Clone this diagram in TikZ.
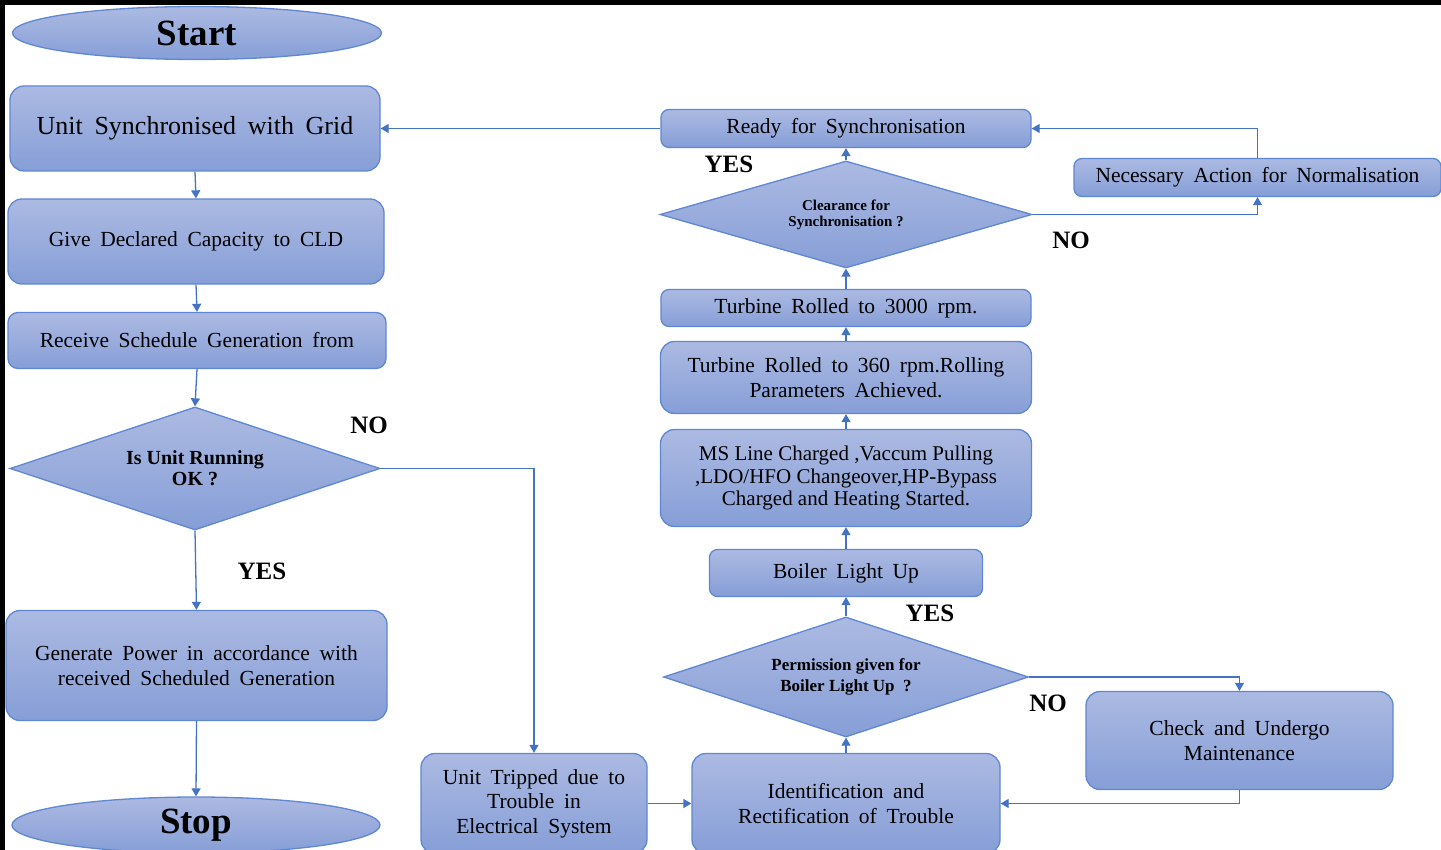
\documentclass[tikz,border=0pt]{standalone}
\usepackage{fontspec}
\setmainfont{Liberation Serif}
\usetikzlibrary{shapes.geometric,arrows.meta}
\definecolor{topc}{RGB}{172,186,226}
\definecolor{botc}{RGB}{134,158,215}
\definecolor{bordc}{RGB}{95,135,210}
\definecolor{linec}{RGB}{68,114,196}
\begin{document}
\begin{tikzpicture}[x=1pt,y=-1pt,
  base/.style={draw=bordc,line width=1.3pt,top color=topc,bottom color=botc,inner sep=0pt,align=center,text=black},
  pbox/.style={base,rectangle,rounded corners=14pt},
  tbox/.style={base,rectangle,rounded corners=8pt},
  oval/.style={base,ellipse,font=\fontsize{37}{40}\selectfont\bfseries},
  dec/.style={base,diamond,aspect=3},
  widesp/.style={execute at begin node={\spaceskip=0.45em plus 0.1em\relax}},
  txt/.style={font=\fontsize{21.5}{24.5}\selectfont,widesp},
  lbl/.style={font=\fontsize{25}{28}\selectfont\bfseries},
  conn/.style={draw=linec,line width=1.3pt,-{Triangle[length=8pt,width=9pt]}},
]
\useasboundingbox (0,0) rectangle (1441,850);
\clip (0,0) rectangle (1441,850);
\fill[white] (0,0) rectangle (1441,850);
\fill[black] (0,0) rectangle (1441,5);
\fill[black] (0,0) rectangle (5,850);

\node[oval,minimum width=369pt,minimum height=53pt] (start) at (197,33) {Start};
\node[pbox,font=\fontsize{26}{30}\selectfont,widesp,minimum width=370pt,minimum height=85pt] (sync) at (195,128.5) {Unit Synchronised with Grid};
\node[pbox,txt,minimum width=376pt,minimum height=85pt] (cap) at (196,241.5) {Give Declared Capacity to CLD};
\node[pbox,txt,rounded corners=10pt,minimum width=378pt,minimum height=56pt] (sched) at (197,340.5) {Receive Schedule Generation from};
\node[dec,minimum width=370pt,minimum height=123pt,font=\fontsize{20}{21}\selectfont\bfseries] (run) at (195,468.5) {Is Unit Running\\OK ?};
\node[pbox,txt,minimum width=381pt,minimum height=110pt] (gen) at (196.5,665.5) {Generate Power in accordance with\\received Scheduled Generation};
\node[oval,minimum width=368pt,minimum height=56pt] (stop) at (196,825) {Stop};

\node[pbox,txt,minimum width=226pt,minimum height=100pt] (trip) at (534,803.5) {Unit Tripped due to\\Trouble in\\Electrical System};
\node[pbox,txt,minimum width=308pt,minimum height=100pt] (ident) at (846,803.5) {Identification and\\Rectification of Trouble};
\node[pbox,txt,minimum width=307pt,minimum height=98pt] (check) at (1239.5,740.5) {Check and Undergo\\Maintenance};
\node[dec,minimum width=365pt,minimum height=120pt,font=\fontsize{17}{21}\selectfont\bfseries] (perm) at (846,677) {Permission given for\\Boiler Light Up \ ?};
\node[tbox,txt,minimum width=273pt,minimum height=47pt] (boiler) at (846,573) {Boiler Light Up};
\node[pbox,font=\fontsize{21}{22.5}\selectfont,minimum width=371pt,minimum height=97pt] (ms) at (846,478) {MS Line Charged ,Vaccum Pulling\\,LDO/HFO Changeover,HP-Bypass\\Charged and Heating Started.};
\node[pbox,txt,minimum width=371pt,minimum height=72pt] (t360) at (846,377.5) {Turbine Rolled to 360 rpm.Rolling\\Parameters Achieved.};
\node[tbox,txt,minimum width=370pt,minimum height=37pt] (t3000) at (846,308) {Turbine Rolled to 3000 rpm.};
\node[dec,aspect=3.5,minimum width=372pt,minimum height=107pt,font=\fontsize{15}{16}\selectfont\bfseries] (clear) at (846,214.5) {Clearance for\\Synchronisation ?};
\node[tbox,txt,minimum width=370pt,minimum height=38pt] (ready) at (846,128.5) {Ready for Synchronisation};
\node[tbox,txt,minimum width=367pt,minimum height=38pt] (norm) at (1257.5,177.5) {Necessary Action for Normalisation};

\draw[conn] (ready.west) -- (sync.east);
\draw[conn] (sync.south) -- (cap.north);
\draw[conn] (cap.south) -- (sched.north);
\draw[conn] (sched.south) -- (run.north);
\draw[conn] (run.south) -- (gen.north);
\draw[conn] (gen.south) -- (stop.north);
\draw[conn] (run.east) -| (trip.north);
\draw[conn] (trip.east) -- (ident.west);
\draw[conn] (ident.north) -- (perm.south);
\draw[conn] (perm.north) -- (boiler.south);
\draw[conn] (perm.east) -| (check.north);
\draw[conn] (check.south) |- (ident.east);
\draw[conn] (boiler.north) -- (ms.south);
\draw[conn] (ms.north) -- (t360.south);
\draw[conn] (t360.north) -- (t3000.south);
\draw[conn] (t3000.north) -- (clear.south);
\draw[conn] (clear.north) -- (ready.south);
\draw[conn] (clear.east) -| (norm.south);
\draw[conn] (norm.north) |- (ready.east);

\node[lbl] (yes1) at (262,571) {YES};
\node[lbl] (no1) at (369,425) {NO};
\node[lbl] (yes2) at (729,164) {YES};
\node[lbl] (no2) at (1071,240) {NO};
\node[lbl] (yes3) at (930,613) {YES};
\node[lbl] (no3) at (1048,703) {NO};
\end{tikzpicture}
\end{document}
